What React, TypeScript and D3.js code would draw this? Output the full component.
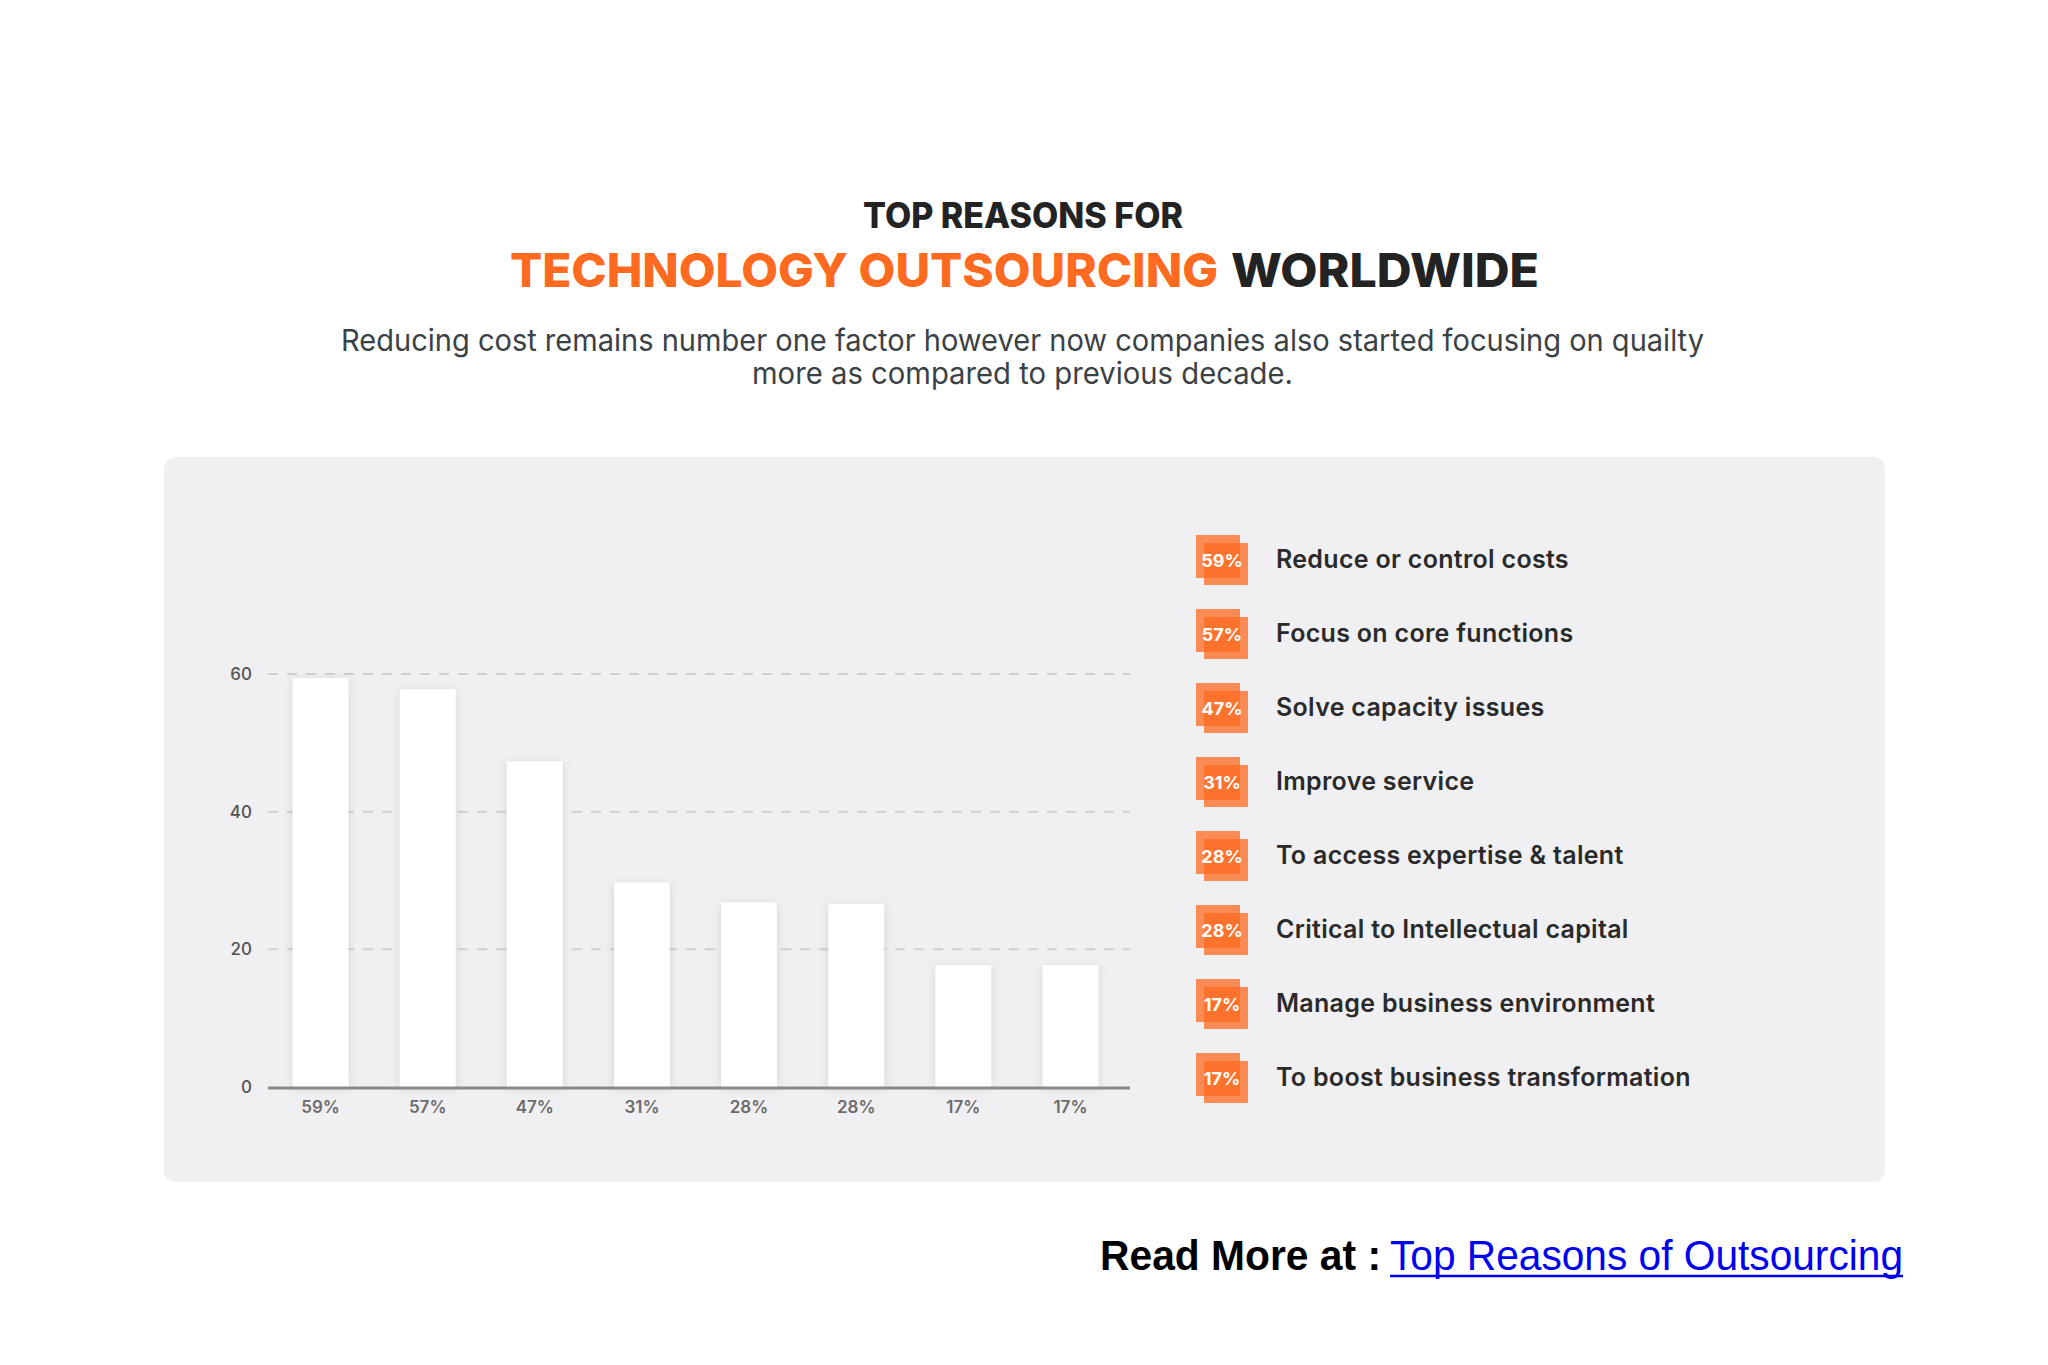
import * as d3 from 'd3';
import { useEffect, useRef } from 'react';

// bar chart values (bar heights, labels as printed)
const barHeights = [59.4, 57.8, 47.3, 29.7, 26.8, 26.6, 17.7, 17.7];
const barLabels = ['59%', '57%', '47%', '31%', '28%', '28%', '17%', '17%'];
const yTicks = [0, 20, 40, 60];

// legend
const reasons = [
    'Reduce or control costs',
    'Focus on core functions',
    'Solve capacity issues',
    'Improve service',
    'To access expertise & talent',
    'Critical to Intellectual capital',
    'Manage business environment',
    'To boost business transformation',
];
const reasonShares = ['59%', '57%', '47%', '31%', '28%', '28%', '17%', '17%'];

const ORANGE = '#fd6a20';
const DARK = '#232323';
const FONT = 'Inter, "Noto Sans", Arial, sans-serif';

const App = () => {
    const ref = useRef<SVGSVGElement>(null);

    useEffect(() => {
        const svg = d3.select(ref.current);
        svg.selectAll('*').remove();

        const W = 2048;
        const H = 1365;
        svg.attr('width', W).attr('height', H);

        svg.append('rect').attr('width', W).attr('height', H).attr('fill', '#ffffff');

        const defs = svg.append('defs');
        const shadow = defs.append('filter').attr('id', 'barShadow')
            .attr('x', '-50%').attr('y', '-20%').attr('width', '200%').attr('height', '140%');
        shadow.append('feDropShadow')
            .attr('dx', 0).attr('dy', 2).attr('stdDeviation', 5)
            .attr('flood-color', '#000').attr('flood-opacity', 0.13);

        // Titles
        svg.append('text')
            .attr('x', 863).attr('y', 228)
            .attr('textLength', 320).attr('lengthAdjust', 'spacingAndGlyphs')
            .style('font-family', FONT).style('font-weight', 800).style('font-size', '35px')
            .style('fill', DARK)
            .text('TOP REASONS FOR');

        svg.append('text')
            .attr('x', 510).attr('y', 287)
            .attr('textLength', 708).attr('lengthAdjust', 'spacingAndGlyphs')
            .style('font-family', FONT).style('font-weight', 800).style('font-size', '47px')
            .style('fill', ORANGE)
            .text('TECHNOLOGY OUTSOURCING');

        svg.append('text')
            .attr('x', 1231).attr('y', 287)
            .attr('textLength', 308).attr('lengthAdjust', 'spacingAndGlyphs')
            .style('font-family', FONT).style('font-weight', 800).style('font-size', '47px')
            .style('fill', DARK)
            .text('WORLDWIDE');

        const sub = [
            { t: 'Reducing cost remains number one factor however now companies also started focusing on quailty', x: 341, w: 1363, y: 351 },
            { t: 'more as compared to previous decade.', x: 752, w: 541, y: 384 },
        ];
        sub.forEach((s) => {
            svg.append('text')
                .attr('x', s.x).attr('y', s.y)
                .attr('textLength', s.w).attr('lengthAdjust', 'spacingAndGlyphs')
                .style('font-family', FONT).style('font-weight', 400).style('font-size', '30px')
                .style('fill', '#3b4246')
                .text(s.t);
        });

        // Panel
        svg.append('rect')
            .attr('x', 164).attr('y', 457).attr('width', 1721).attr('height', 725)
            .attr('rx', 12)
            .attr('fill', '#f0f0f2');

        // Scales
        const x = d3.scaleBand<number>()
            .domain(d3.range(barHeights.length))
            .range([267, 1124])
            .paddingInner(0.48)
            .paddingOuter(0.24);

        const y = d3.scaleLinear().domain([0, 60]).range([1087, 674]);

        // Grid lines
        svg.append('g')
            .selectAll('line')
            .data(yTicks.filter((d) => d > 0))
            .enter()
            .append('line')
            .attr('x1', 268).attr('x2', 1130)
            .attr('y1', (d) => y(d)).attr('y2', (d) => y(d))
            .attr('stroke', '#cfcfd3')
            .attr('stroke-width', 2)
            .attr('stroke-dasharray', '10 9');

        // Y tick labels
        svg.append('g')
            .selectAll('text')
            .data(yTicks)
            .enter()
            .append('text')
            .attr('x', 252)
            .attr('y', (d) => y(d))
            .attr('dy', '0.36em')
            .attr('text-anchor', 'end')
            .style('font-family', FONT).style('font-size', '17px').style('font-weight', 500)
            .style('fill', '#555')
            .text((d) => d);

        // Bars
        svg.append('g')
            .selectAll('rect')
            .data(barHeights)
            .enter()
            .append('rect')
            .attr('x', (_, i) => x(i))
            .attr('y', (d) => y(d))
            .attr('width', x.bandwidth())
            .attr('height', (d) => y(0) - y(d))
            .attr('fill', '#ffffff')
            .attr('filter', 'url(#barShadow)');

        // X axis line
        svg.append('line')
            .attr('x1', 268).attr('x2', 1130)
            .attr('y1', y(0) + 1).attr('y2', y(0) + 1)
            .attr('stroke', '#8a8a8c')
            .attr('stroke-width', 3);

        // X labels
        svg.append('g')
            .selectAll('text')
            .data(barLabels)
            .enter()
            .append('text')
            .attr('x', (_, i) => x(i) + x.bandwidth() / 2)
            .attr('y', 1113)
            .attr('text-anchor', 'middle')
            .style('font-family', FONT).style('font-size', '17px').style('font-weight', 600)
            .style('fill', '#6b6b6b')
            .text((d) => d);

        // Legend
        const ly = d3.scalePoint<string>().domain(reasons).range([559, 1077]);
        const rows = svg.append('g')
            .selectAll('g')
            .data(reasons)
            .enter()
            .append('g')
            .attr('transform', (d) => `translate(0, ${ly(d)})`);

        rows.append('rect')
            .attr('x', 1196).attr('y', -24).attr('width', 44).attr('height', 43)
            .attr('fill', ORANGE).attr('fill-opacity', 0.75);
        rows.append('rect')
            .attr('x', 1204).attr('y', -16).attr('width', 44).attr('height', 42)
            .attr('fill', ORANGE).attr('fill-opacity', 0.75);

        rows.append('text')
            .attr('x', 1222).attr('y', 8)
            .attr('text-anchor', 'middle')
            .style('font-family', FONT).style('font-size', '18px').style('font-weight', 700)
            .style('fill', '#ffffff')
            .text((_, i) => reasonShares[i]);

        rows.append('text')
            .attr('x', 1276).attr('y', 9)
            .style('font-family', FONT).style('font-size', '25px').style('font-weight', 600)
            .style('letter-spacing', '0.3px')
            .style('fill', '#2a2a2a')
            .text((d) => d);

        // Read more
        svg.append('text')
            .attr('x', 1100).attr('y', 1270)
            .attr('textLength', 281).attr('lengthAdjust', 'spacingAndGlyphs')
            .style('font-family', '"Liberation Sans", Arial, sans-serif')
            .style('font-size', '42px').style('font-weight', 700)
            .style('fill', '#000')
            .text('Read More at :');

        svg.append('text')
            .attr('x', 1390).attr('y', 1270)
            .attr('textLength', 513).attr('lengthAdjust', 'spacingAndGlyphs')
            .style('font-family', '"Liberation Sans", Arial, sans-serif')
            .style('font-size', '42px').style('font-weight', 400)
            .style('fill', '#0000ee')
            .text('Top Reasons of Outsourcing');

        svg.append('line')
            .attr('x1', 1390).attr('x2', 1903)
            .attr('y1', 1276).attr('y2', 1276)
            .attr('stroke', '#0000ee')
            .attr('stroke-width', 2.5);
    }, []);

    return (
        <svg ref={ref} style={{ position: 'absolute', left: 0, top: 0, display: 'block' }} />
    );
};

export default App;
